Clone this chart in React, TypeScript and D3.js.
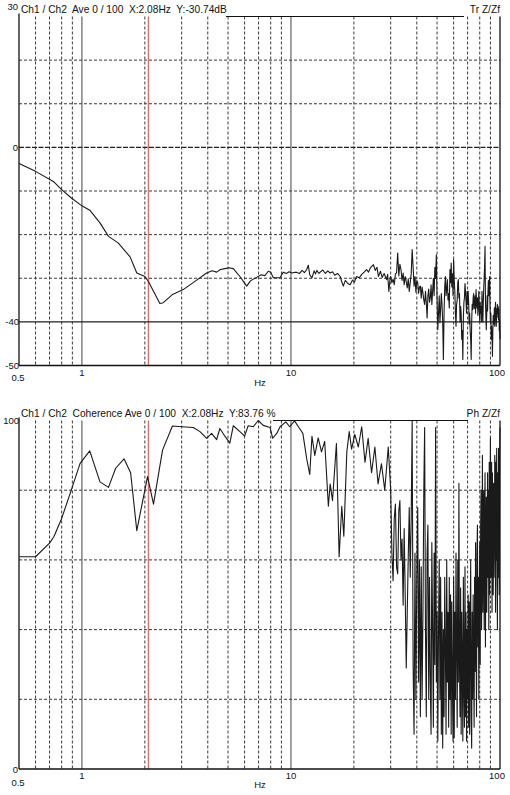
import React from 'react';
import * as d3 from 'd3';

// transfer function magnitude (dB) vs frequency (Hz)
const trFreq = [
  0.5, 0.6, 0.73, 0.8, 0.89, 1.0, 1.09, 1.22, 1.34, 1.49, 1.7, 1.83, 2.0, 2.08, 2.36, 2.45, 2.7, 3.05, 3.5, 3.95,
  4.2, 4.41, 4.6, 4.83, 5.05, 5.3, 5.7, 6.14, 6.4, 6.85, 7.2, 7.5, 7.79, 8.0, 8.23, 8.86, 9.19, 9.5, 9.8, 10.1,
  10.6, 11.0, 11.3, 11.6, 11.9, 12.1, 12.3, 12.6, 12.9, 13.1, 13.3, 13.6, 13.8, 14.2, 14.6, 15.0, 15.4, 15.8, 16.2, 16.7,
  17.2, 17.5, 17.8, 18.2, 18.7, 19.2, 19.7, 20.1, 20.6, 21.2, 21.8, 22.4, 23.0, 23.5, 24.0, 24.8, 25.3, 25.8, 26.2, 26.8,
  27.3, 27.9, 28.7, 29.0, 29.4, 29.8,
  30.0, 30.4, 30.8, 31.2, 31.6, 32.0, 32.4, 32.8, 33.2, 33.6, 34.0, 34.4, 34.8, 35.2, 35.6, 36.0, 36.4, 36.8, 37.2, 37.6,
  38.0, 38.4, 38.8, 39.2, 39.6, 40.0, 40.4, 40.8, 41.2, 41.6, 42.0, 42.4, 42.8, 43.2, 43.6, 44.0, 44.4, 44.8, 45.2, 45.6,
  46.0, 46.4, 46.8, 47.2, 47.6, 48.0, 48.4, 48.8, 49.2, 49.6, 50.0, 50.4, 50.8, 51.2, 51.6, 52.0, 52.4, 52.8, 53.2, 53.6,
  54.0, 54.4, 54.8, 55.2, 55.6, 56.0, 56.4, 56.8, 57.2, 57.6, 58.0, 58.4, 58.8, 59.2, 59.6, 60.0, 60.4, 60.8, 61.2, 61.6,
  62.0, 62.4, 62.8, 63.2, 63.6, 64.0, 64.4, 64.8, 65.2, 65.6, 66.0, 66.4, 66.8, 67.2, 67.6, 68.0, 68.4, 68.8, 69.2, 69.6,
  70.0, 70.4, 70.8, 71.2, 71.6, 72.0, 72.4, 72.8, 73.2, 73.6, 74.0, 74.4, 74.8, 75.2, 75.6, 76.0, 76.4, 76.8, 77.2, 77.6,
  78.0, 78.4, 78.8, 79.2, 79.6, 80.0, 80.4, 80.8, 81.2, 81.6, 82.0, 82.4, 82.8, 83.2, 83.6, 84.0, 84.4, 84.8, 85.2, 85.6,
  86.0, 86.4, 86.8, 87.2, 87.6, 88.0, 88.4, 88.8, 89.2, 89.6, 90.0, 90.4, 90.8, 91.2, 91.6, 92.0, 92.4, 92.8, 93.2, 93.6,
  94.0, 94.4, 94.8, 95.2, 95.6, 96.0, 96.4, 96.8, 97.2, 97.6, 98.0, 98.4, 98.8, 99.2, 99.6, 100,
];
const trDb = [
  -3.7, -5.5, -7.8, -9.7, -11.6, -13.4, -14.4, -17.3, -20.4, -21.9, -25.1, -28.8, -29.6, -30.74, -35.8, -35.6, -33.8, -32.6, -30.6, -28.8,
  -28.3, -28.6, -28.0, -27.8, -27.6, -27.8, -29.6, -31.8, -30.6, -29.8, -29.2, -29.4, -28.4, -28.6, -29.9, -29.9, -28.6, -28.9, -28.5, -28.8,
  -28.6, -28.9, -28.2, -28.7, -28.0, -27.0, -29.2, -29.9, -28.3, -29.0, -28.2, -28.9, -28.6, -28.1, -28.9, -28.3, -28.8, -28.5, -29.3, -28.9,
  -29.6, -30.8, -31.8, -30.5, -31.2, -31.5, -30.4, -30.9, -29.6, -29.9, -29.1, -28.6, -28.0, -28.6, -27.6, -26.9, -28.2, -27.5, -29.6, -28.4,
  -29.8, -28.9, -30.3, -29.1, -33.0, -30.0,
  -29.6, -31.0, -30.2, -31.5, -29.0, -28.8, -24.2, -29.5, -26.8, -28.0, -30.5, -28.8, -31.5, -29.6, -30.8, -32.2, -30.1, -33.0, -31.0, -29.0,
  -23.4, -27.5, -31.8, -29.6, -33.2, -30.5, -31.0, -33.4, -32.0, -31.8, -34.6, -32.0, -33.4, -35.0, -36.0, -33.0, -35.5, -39.1, -34.0, -32.5,
  -35.5, -34.5, -31.5, -36.0, -33.0, -30.0, -34.0, -27.5, -30.0, -24.6, -35.0, -41.8, -38.0, -34.0, -40.2, -37.0, -33.5, -36.0, -40.0, -48.6,
  -38.0, -32.0, -29.6, -34.0, -32.5, -30.3, -35.0, -33.5, -36.8, -28.0, -31.0, -26.5, -32.0, -29.0, -34.0, -25.7, -30.5, -33.0, -38.0, -41.0,
  -36.0, -35.0, -31.0, -30.3, -34.5, -33.5, -40.0, -36.5, -38.0, -44.0, -42.0, -48.6, -39.0, -35.5, -34.5, -31.2, -33.0, -35.5, -38.0, -33.0,
  -36.0, -33.0, -35.5, -40.5, -38.0, -42.0, -44.0, -48.6, -40.0, -36.0, -37.2, -34.5, -33.5, -37.0, -36.0, -34.0, -38.0, -32.6, -35.0, -36.8,
  -34.5, -38.5, -36.5, -33.0, -36.5, -40.0, -35.5, -38.0, -36.5, -40.0, -33.0, -36.0, -40.0, -35.5, -32.0, -30.0, -27.0, -22.7, -35.0, -39.0,
  -41.8, -38.0, -34.0, -37.5, -33.0, -30.5, -34.0, -31.0, -29.6, -36.5, -40.0, -38.0, -44.0, -41.0, -43.5, -47.9, -42.5, -38.5, -40.5, -39.8,
  -36.8, -41.0, -38.0, -35.5, -38.5, -41.0, -37.0, -39.0, -36.0, -38.0, -36.5, -39.5, -37.0, -42.0, -39.5, -44.0,
];

// coherence (%) vs frequency (Hz)
const cohFreq = [
  0.5, 0.6, 0.7, 0.735, 0.8, 0.89, 0.98, 1.09, 1.22, 1.34, 1.45, 1.59, 1.71, 1.83, 2.06, 2.2, 2.43, 2.71, 3.0, 3.41,
  3.67, 3.95, 4.17, 4.41, 4.57, 4.83, 5.1, 5.3, 5.7, 6.0, 6.24, 6.6, 6.97, 7.37, 7.94, 8.18, 8.55, 8.87, 9.45, 9.86,
  10.4, 11.0, 11.4, 11.9, 12.3, 12.6, 13.0, 13.5, 14.0, 14.5, 15.1, 15.4, 15.8, 16.5, 17.0, 17.5, 17.9, 18.5, 19.0, 19.5,
  20.2, 21.0, 21.8, 22.6, 23.4, 24.3, 25.2, 26.1, 27.1, 28.1, 29.2,
  30.0, 30.4, 30.8, 31.2, 31.6, 32.0, 32.4, 32.8, 33.2, 33.6, 34.0, 34.4, 34.8, 35.2, 35.6, 36.0, 36.4, 36.8, 37.2, 37.6,
  38.0, 38.4, 38.8, 39.2, 39.6, 40.0, 40.4, 40.8, 41.2, 41.6, 42.0, 42.4, 42.8, 43.2, 43.6, 44.0, 44.4, 44.8, 45.2, 45.6,
  46.0, 46.4, 46.8, 47.2, 47.6, 48.0, 48.4, 48.8, 49.2, 49.6, 50.0, 50.4, 50.8, 51.2, 51.6, 52.0, 52.4, 52.8, 53.2, 53.6,
  54.0, 54.4, 54.8, 55.2, 55.6, 56.0, 56.4, 56.8, 57.2, 57.6, 58.0, 58.4, 58.8, 59.2, 59.6, 60.0, 60.4, 60.8, 61.2, 61.6,
  62.0, 62.4, 62.8, 63.2, 63.6, 64.0, 64.4, 64.8, 65.2, 65.6, 66.0, 66.4, 66.8, 67.2, 67.6, 68.0, 68.4, 68.8, 69.2, 69.6,
  70.0, 70.4, 70.8, 71.2, 71.6, 72.0, 72.4, 72.8, 73.2, 73.6, 74.0, 74.4, 74.8, 75.2, 75.6, 76.0, 76.4, 76.8, 77.2, 77.6,
  78.0, 78.4, 78.8, 79.2, 79.6, 80.0, 80.4, 80.8, 81.2, 81.6, 82.0, 82.4, 82.8, 83.2, 83.6, 84.0, 84.4, 84.8, 85.2, 85.6,
  86.0, 86.4, 86.8, 87.2, 87.6, 88.0, 88.4, 88.8, 89.2, 89.6, 90.0, 90.4, 90.8, 91.2, 91.6, 92.0, 92.4, 92.8, 93.2, 93.6,
  94.0, 94.4, 94.8, 95.2, 95.6, 96.0, 96.4, 96.8, 97.2, 97.6, 98.0, 98.4, 98.8, 99.2, 99.6, 100,
];
const cohPct = [
  60.9, 60.9, 64.8, 66.7, 71.9, 80.1, 87.7, 91.3, 82.4, 80.8, 86.3, 89.0, 85.0, 68.4, 83.9, 76.0, 91.5, 98.4, 98.2, 98.0,
  96.8, 94.9, 96.3, 94.5, 97.7, 95.5, 93.5, 98.5, 96.8, 95.5, 98.5, 98.2, 100, 98.6, 98.0, 94.9, 96.3, 98.2, 99.6, 98.2,
  99.9, 97.7, 96.3, 88.9, 84.5, 95.5, 90.0, 95.0, 91.0, 94.0, 75.4, 81.8, 77.0, 93.4, 60.9, 75.4, 66.8, 91.0, 96.8, 91.8,
  96.0, 92.4, 98.2, 88.0, 94.9, 85.0, 92.4, 81.8, 87.6, 80.0, 92.4,
  80, 62, 54, 72, 76, 58, 56, 74, 77, 60, 66, 47, 69, 50, 29, 45, 61, 75, 55, 72,
  100, 30, 10, 62, 20, 55, 75, 25, 60, 15, 58, 20, 45, 80, 98, 40, 15, 62, 70, 20,
  55, 25, 10, 65, 40, 12, 62, 30, 98, 25, 45, 8, 40, 60, 20, 55, 10, 45, 6, 40,
  15, 55, 35, 10, 60, 25, 45, 12, 55, 20, 50, 10, 48, 25, 8, 55, 9, 45, 20, 62,
  35, 12, 60, 25, 82, 30, 15, 52, 10, 45, 30, 8, 55, 25, 12, 58, 15, 45, 8, 40,
  20, 50, 12, 48, 10, 42, 60, 15, 6, 45, 20, 50, 30, 12, 55, 28, 65, 40, 15, 62,
  70, 35, 55, 20, 50, 65, 30, 70, 80, 40, 60, 90, 45, 75, 80, 40, 70, 85, 35, 65,
  78, 45, 62, 85, 55, 80, 40, 88, 50, 75, 95, 55, 80, 88, 45, 85, 60, 50, 82, 55,
  65, 90, 85, 45, 88, 60, 92, 55, 40, 85, 55, 92, 65, 50, 88, 98,
];

const minorFreqs = [0.6, 0.7, 0.8, 0.9, 2, 3, 4, 5, 6, 7, 8, 9, 20, 30, 40, 50, 60, 70, 80, 90];
const majorFreqs = [1, 10];
const xTickLabels = ['1', '10', '100'];
const cursorHz = 2.08;
const trDashedDb = [20, 10, -10, -20, -30];
const cohDashedPct = [80, 60, 40, 20];

const W = 510;
const H = 795;
const FONT = 'Liberation Sans, Arial, sans-serif';
const GRID = '#3a3a3a';

const x = d3.scaleLog().domain([0.5, 100]).range([19, 500]);
const yTr = d3.scaleLinear().domain([-50, 30]).range([365.5, 16.5]);
const yCoh = d3.scaleLinear().domain([0, 100]).range([769, 420.5]);

const trLine = d3
  .line<number>()
  .x((d, i) => x(trFreq[i]))
  .y((d) => yTr(d));
const cohLine = d3
  .line<number>()
  .x((d, i) => x(cohFreq[i]))
  .y((d) => yCoh(d));

type PanelProps = {
  y: d3.ScaleLinear<number, number>;
  dashed: number[];
  title: string;
  tag: string;
  lineGap: [number, number];
  labelDy: number;
  halfDy: number;
  hzDy: number;
  children?: React.ReactNode;
};

const Panel = ({ y, dashed, title, tag, lineGap, labelDy, halfDy, hzDy, children }: PanelProps) => {
  const [y0, y1] = y.range();
  const top = Math.min(y0, y1);
  const bottom = Math.max(y0, y1);
  return (
    <g>
      {minorFreqs.map((f) => (
        <line key={'v' + f} x1={x(f)} x2={x(f)} y1={top} y2={bottom} stroke={GRID} strokeWidth={1} strokeDasharray="3,2" />
      ))}
      {majorFreqs.map((f) => (
        <line key={'m' + f} x1={x(f)} x2={x(f)} y1={top} y2={bottom} stroke="#444" strokeWidth={1} />
      ))}
      {dashed.map((v) => (
        <line key={'h' + v} x1={x(0.5)} x2={x(100)} y1={y(v)} y2={y(v)} stroke={GRID} strokeWidth={1} strokeDasharray="3,2" />
      ))}
      <line x1={x(cursorHz)} x2={x(cursorHz)} y1={top} y2={bottom} stroke="#e06a6a" strokeWidth={1.3} />
      {children}
      {/* frame */}
      <line x1={x(0.5)} x2={x(0.5)} y1={top - 3} y2={bottom} stroke="#111" strokeWidth={1.3} />
      <line x1={x(100)} x2={x(100)} y1={top} y2={bottom} stroke="#111" strokeWidth={1.3} />
      <line x1={x(0.5)} x2={x(100)} y1={bottom} y2={bottom} stroke="#111" strokeWidth={1.3} />
      <line x1={lineGap[0]} x2={lineGap[1]} y1={top} y2={top} stroke="#111" strokeWidth={1.2} />
      <text x={21} y={top - 4} fontSize={10.2} fill="#111" style={{ whiteSpace: 'pre' }}>
        {title}
      </text>
      <text x={500} y={top - 4} fontSize={10.2} fill="#111" textAnchor="end">
        {tag}
      </text>
      <text x={18} y={bottom + labelDy + 5} fontSize={9.5} fill="#111" textAnchor="middle">
        0.5
      </text>
      {xTickLabels.map((t) => (
        <text key={t} x={x(+t) - (t === '100' ? 3 : 0)} y={bottom + halfDy} fontSize={9.5} fill="#111" textAnchor="middle">
          {t}
        </text>
      ))}
      <text x={260} y={bottom + hzDy} fontSize={9.5} fill="#111" textAnchor="middle">
        Hz
      </text>
    </g>
  );
};

export default function App() {
  return (
    <svg
      width={W}
      height={H}
      viewBox={`0 0 ${W} ${H}`}
      style={{ position: 'absolute', left: 0, top: 0, background: '#fff', fontFamily: FONT }}
    >
      <Panel
        y={yTr}
        dashed={trDashedDb}
        title="Ch1 / Ch2  Ave 0 / 100  X:2.08Hz  Y:-30.74dB"
        tag="Tr Z/Zf"
        lineGap={[226, 464]}
        labelDy={10}
        halfDy={10.5}
        hzDy={20}
      >
        <line x1={x(0.5)} x2={x(100)} y1={yTr(0)} y2={yTr(0)} stroke="#222" strokeWidth={1.4} strokeDasharray="5,1.5" />
        <line x1={x(0.5)} x2={x(100)} y1={yTr(-40)} y2={yTr(-40)} stroke="#222" strokeWidth={1.1} />
        <path d={trLine(trDb) ?? ''} fill="none" stroke="#1a1a1a" strokeWidth={1.1} strokeLinejoin="round" />
      </Panel>
      <Panel
        y={yCoh}
        dashed={cohDashedPct}
        title="Ch1 / Ch2  Coherence Ave 0 / 100  X:2.08Hz  Y:83.76 %"
        tag="Ph Z/Zf"
        lineGap={[273, 468]}
        labelDy={11.5}
        halfDy={10}
        hzDy={19}
      >
        <path d={cohLine(cohPct) ?? ''} fill="none" stroke="#1a1a1a" strokeWidth={1.1} strokeLinejoin="round" />
      </Panel>
      {/* y axis labels */}
      <g fontSize={9.5} fill="#111" textAnchor="end">
        <text x={18} y={10}>30</text>
        <text x={18} y={yTr(0) + 3.5}>0</text>
        <text x={19} y={yTr(-40) + 3.5}>-40</text>
        <text x={19} y={yTr(-50) + 3.5}>-50</text>
        <text x={19} y={yCoh(100) + 3.5}>100</text>
        <text x={18} y={yCoh(0) + 3.5}>0</text>
      </g>
    </svg>
  );
}
